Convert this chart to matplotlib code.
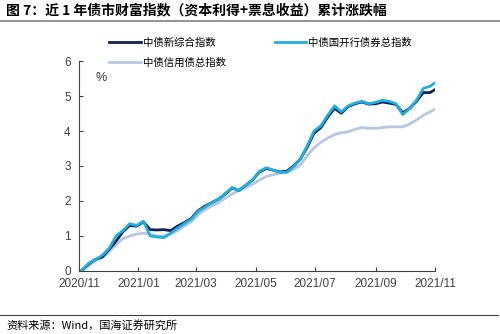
import numpy as np
import pandas as pd
import matplotlib
matplotlib.use('Agg')
from matplotlib import pyplot as plt
import matplotlib.dates as mdates

plt.rcParams['font.family'] = ['Liberation Sans', 'Noto Sans CJK SC', 'DejaVu Sans']

## weekly observations, Nov 2020 - Nov 2021
dates = pd.date_range('2020-11-04', periods=53, freq='7D')

composite = [0.02, 0.20, 0.33, 0.40, 0.62, 0.85, 1.12, 1.30, 1.28, 1.40,
             1.18, 1.17, 1.18, 1.15, 1.28, 1.38, 1.50, 1.72, 1.85, 1.95,
             2.05, 2.20, 2.37, 2.30, 2.45, 2.60, 2.83, 2.93, 2.88, 2.83,
             2.85, 3.00, 3.20, 3.54, 3.94, 4.10, 4.40, 4.65, 4.51, 4.70,
             4.78, 4.83, 4.77, 4.78, 4.83, 4.80, 4.76, 4.52, 4.65, 4.85,
             5.10, 5.10, 5.22]

cdb = [0.02, 0.22, 0.32, 0.45, 0.65, 1.00, 1.15, 1.35, 1.30, 1.42,
       1.00, 0.97, 0.95, 1.08, 1.22, 1.35, 1.48, 1.70, 1.82, 1.95,
       2.05, 2.22, 2.38, 2.30, 2.45, 2.60, 2.85, 2.95, 2.88, 2.82,
       2.82, 2.98, 3.20, 3.58, 4.00, 4.15, 4.45, 4.72, 4.55, 4.72,
       4.80, 4.85, 4.78, 4.82, 4.88, 4.85, 4.78, 4.47, 4.65, 4.88,
       5.22, 5.28, 5.42]

credit = [0.00, 0.15, 0.30, 0.38, 0.55, 0.75, 0.92, 1.00, 1.05, 1.08,
          1.05, 1.00, 1.00, 1.05, 1.15, 1.28, 1.40, 1.60, 1.75, 1.85,
          1.95, 2.08, 2.20, 2.30, 2.38, 2.48, 2.60, 2.70, 2.75, 2.80,
          2.82, 2.90, 3.03, 3.30, 3.52, 3.68, 3.80, 3.90, 3.95, 3.98,
          4.05, 4.10, 4.08, 4.08, 4.10, 4.12, 4.12, 4.12, 4.20, 4.32,
          4.45, 4.55, 4.66]

labels = ['中债新综合指数', '中债国开行债券总指数', '中债信用债总指数']

fig = plt.figure(figsize=(5, 3.34), dpi=100)
ax = fig.add_axes([0.158, 0.189, 0.712, 0.628])

l3, = ax.plot(dates, credit, color='#b7c7e3', linewidth=2)
l1, = ax.plot(dates, composite, color='#0f1f5a', linewidth=2)
l2, = ax.plot(dates, cdb, color='#1eb0de', linewidth=2)

ax.set_xlim(pd.Timestamp('2020-11-01'), pd.Timestamp('2021-11-01'))
ax.set_ylim(0, 6)
ax.set_yticks(np.arange(0, 7, 1))
ax.xaxis.set_major_locator(mdates.MonthLocator(bymonth=[1, 3, 5, 7, 9, 11]))
ax.xaxis.set_major_formatter(mdates.DateFormatter('%Y/%m'))
ax.tick_params(direction='in', length=3, width=0.8, colors='#404040', labelsize=8.5)
ax.tick_params(axis='x', pad=5)
ax.tick_params(axis='y', pad=6)
for s in ['top', 'right']:
    ax.spines[s].set_visible(False)
for s in ['left', 'bottom']:
    ax.spines[s].set_color('#404040')
    ax.spines[s].set_linewidth(0.8)

ax.text(0.045, 0.95, '%', transform=ax.transAxes, fontsize=9, color='#333333',
        va='top')

## legend, two columns above the plot (column-major order)
fig.legend([l1, l3, l2], [labels[0], labels[2], labels[1]], ncol=2, loc='upper left',
           bbox_to_anchor=(0.2, 0.915), frameon=False,
           handlelength=3, columnspacing=4.7, labelspacing=0.9,
           handletextpad=0.2, prop={'family': ['Noto Sans CJK SC'], 'size': 7.5})

## title, footer and rules
fig.text(0.012, 0.968, '图 7：近 1 年债市财富指数（资本利得+票息收益）累计涨跌幅',
         fontsize=10, fontweight='bold', va='center',
         family=['Noto Sans CJK SC', 'DejaVu Sans'])
fig.add_artist(plt.Line2D([0, 1], [0.938, 0.938], color='#808080', linewidth=1.2))
fig.add_artist(plt.Line2D([0, 0.995], [0.057, 0.057], color='#404040', linewidth=0.8))
fig.text(0.012, 0.025, '资料来源：Wind，国海证券研究所', fontsize=8, va='center',
         family=['Noto Sans CJK SC', 'DejaVu Sans'])

plt.savefig('out.png', dpi=100)
